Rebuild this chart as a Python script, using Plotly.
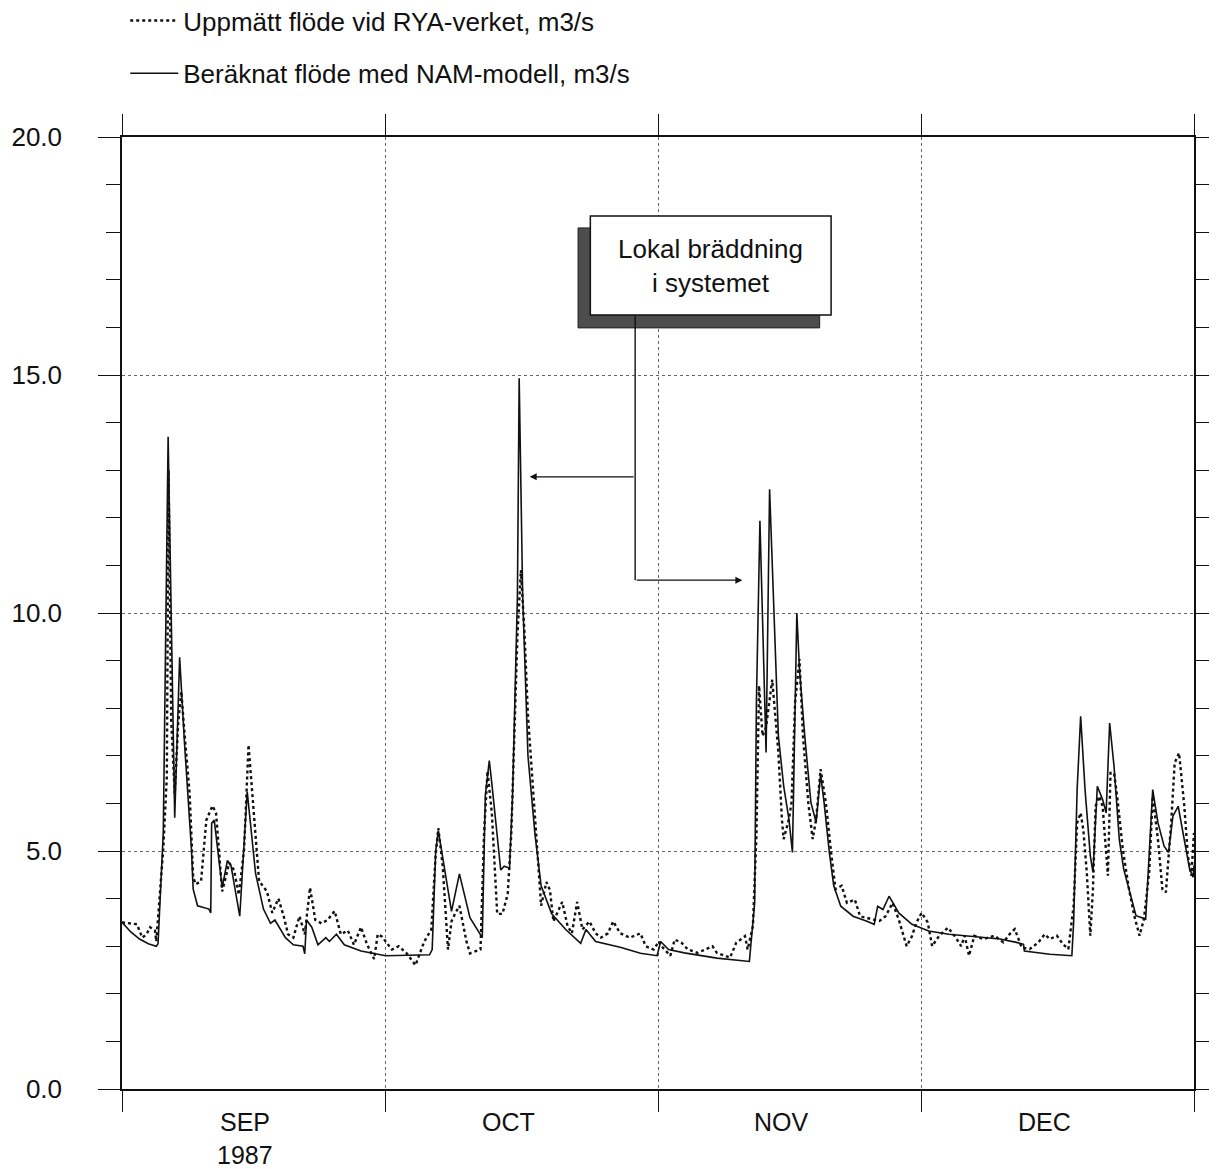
import pandas as pd
import plotly.graph_objects as go

# ---------------- data (days after 1 Sep 1987, flow in m3/s) ----------------
measured_day = [0.0, 1.7, 2.3, 2.8, 3.2, 3.75, 3.9, 4.3, 4.7, 5.1, 5.3, 5.6, 6.0, 6.4, 6.75, 7.1, 7.7, 8.1,
                8.4, 9.0, 9.6, 10.3, 10.7, 11.4, 12.2, 12.75, 13.3, 13.9, 14.4, 15.0, 15.6, 16.5, 17.1,
                17.8, 18.4, 18.9, 19.5, 20.2, 20.8, 21.4, 22.0, 22.7, 23.4, 24.2, 24.9, 25.7, 26.4, 27.2,
                27.9, 28.7, 29.1, 29.6, 30.7, 31.5, 32.4, 33.4, 34.4, 35.2, 35.7, 36.0, 36.5, 37.1, 37.5,
                37.9, 38.4, 39.2, 39.6, 40.8, 41.2, 41.6, 42.1, 42.7, 43.3, 43.9, 44.3, 44.65, 45.0, 45.4,
                45.8, 46.2, 46.8, 47.4, 47.7, 48.3, 48.7, 49.1, 50.1, 50.7, 51.2, 51.8, 52.4, 53.2, 53.9,
                54.5, 55.3, 55.9, 56.7, 57.8, 59.0, 59.6, 60.5, 61.1, 61.4, 62.4, 62.9, 63.7, 64.4, 65.5,
                67.2, 67.7, 69.2, 69.9, 70.9, 71.2, 71.8, 72.2, 72.5, 72.9, 73.3, 74.0, 74.7, 75.1, 75.3,
                75.9, 76.2, 76.6, 77.1, 77.5, 78.1, 78.6, 79.0, 79.5, 80.1, 80.7, 81.2, 81.9, 82.5, 83.4,
                84.0, 85.5, 86.2, 86.9, 87.7, 88.4, 89.3, 89.9, 90.4, 91.0, 91.7, 92.2, 93.0, 94.0, 94.9,
                95.5, 95.9, 96.4, 97.0, 98.0, 99.3, 100.3, 101.0, 101.6, 102.4, 103.3, 104.3, 105.0, 105.6,
                106.4, 107.1, 107.7, 108.3, 108.7, 109.1, 109.4, 109.8, 110.2, 110.5, 110.8, 111.2, 111.6,
                112.0, 112.2, 112.5, 112.9, 113.3, 113.9, 114.6, 115.2, 115.8, 116.3, 116.9, 117.3, 117.9,
                118.4, 118.8, 119.4, 119.8, 120.3, 120.9, 121.3, 121.7, 122.0]
measured_flow = [3.5, 3.46, 3.18, 3.25, 3.4, 3.33, 3.1, 4.08, 5.05, 6.55, 13.0, 7.75, 6.2, 7.7, 8.35, 7.5, 6.2, 4.45,
                 4.3, 4.37, 5.65, 5.95, 5.8, 4.15, 4.75, 4.6, 4.08, 5.05, 7.23, 5.8, 4.37, 4.15, 3.7,
                 4.0, 3.63, 3.25, 3.18, 3.63, 3.25, 4.23, 3.55, 3.48, 3.55, 3.74, 3.25, 3.33, 3.03, 3.4,
                 3.03, 2.73, 3.25, 3.2, 2.93, 3.0, 2.85, 2.6, 3.1, 3.35, 4.93, 5.48, 4.68, 2.93, 3.52,
                 3.68, 3.85, 3.1, 2.85, 2.93, 5.35, 6.68, 5.77, 3.68, 3.68, 4.1, 5.35, 7.43, 9.52, 10.9,
                 9.6, 7.85, 6.18, 4.68, 3.85, 4.35, 4.18, 3.52, 3.93, 3.43, 3.27, 3.93, 3.35, 3.52, 3.27,
                 3.18, 3.27, 3.52, 3.27, 3.18, 3.27, 3.0, 2.93, 3.1, 3.0, 2.8, 3.14, 3.07, 2.93, 2.86,
                 3.0, 2.86, 2.76, 3.07, 3.21, 2.93, 3.42, 5.32, 8.47, 7.42, 7.6, 8.6, 7.07, 5.67, 5.25,
                 5.67, 6.02, 8.12, 9.03, 7.42, 6.02, 5.25, 5.67, 6.72, 6.02, 4.97, 4.2, 4.27, 3.91, 3.98,
                 3.63, 3.56, 3.53, 3.63, 3.91, 3.56, 3.0, 3.21, 3.49, 3.7, 3.5, 3.0, 3.22, 3.39, 3.18,
                 3.0, 3.22, 2.8, 3.22, 3.15, 3.22, 3.08, 3.25, 3.36, 2.97, 2.94, 3.08, 3.25, 3.15,
                 3.22, 3.04, 2.94, 3.85, 5.59, 5.8, 5.45, 4.55, 3.22, 4.2, 5.94, 6.15, 5.94,
                 4.9, 4.48, 6.64, 6.64, 6.08, 5.03, 4.2, 3.64, 3.22, 3.57, 4.55, 6.15, 5.24,
                 4.2, 4.13, 5.59, 6.85, 7.06, 5.94, 4.9, 4.48, 5.38]

model_day = [0.0, 1.0, 2.0, 3.0, 3.9, 4.1, 4.7, 5.25, 6.0, 6.56, 7.1, 7.9, 8.1, 8.6, 9.9, 10.1, 10.2, 10.5,
             11.4, 12.0, 12.4, 13.4, 14.25, 15.2, 16.1, 16.9, 17.4, 18.6, 19.5, 20.6, 20.8, 21.0, 21.6,
             22.3, 23.2, 23.6, 24.4, 25.3, 27.2, 29.1, 30.0, 35.0, 35.3, 35.7, 36.0, 37.5, 38.4, 39.6,
             41.0, 41.35, 41.8, 42.1, 43.1, 43.5, 44.1, 44.45, 44.7, 45.0, 45.2, 45.6, 46.2, 47.0, 47.7,
             48.9, 50.5, 52.2, 52.8, 53.9, 56.7, 59.0, 60.9, 61.3, 62.2, 64.0, 67.7, 71.4, 72.0, 72.2,
             72.6, 73.1, 73.3, 73.7, 74.2, 74.7, 75.3, 75.9, 76.3, 76.8, 77.1, 77.7, 78.4, 79.0, 79.5,
             79.9, 80.5, 81.0, 81.8, 83.2, 84.7, 85.6, 86.0, 86.6, 87.3, 88.4, 89.9, 91.8, 94.1, 96.1,
             98.0, 99.9, 101.8, 102.6, 102.7, 105.6, 108.1, 108.3, 108.7, 109.1, 109.6, 110.2, 110.5,
             111.0, 111.6, 112.0, 112.4, 112.9, 113.5, 114.0, 114.8, 115.4, 116.5, 116.9, 117.3, 117.9,
             118.6, 119.1, 119.6, 120.2, 120.9, 121.5, 121.9, 122.0]
model_flow = [3.5, 3.3, 3.15, 3.05, 3.0, 3.05, 5.4, 13.7, 5.7, 9.07, 7.3, 5.05, 4.2, 3.85, 3.78, 3.7, 5.58, 5.65,
              4.23, 4.8, 4.7, 3.63, 6.25, 4.53, 3.78, 3.48, 3.55, 3.18, 3.03, 3.0, 2.84, 3.55, 3.4,
              3.03, 3.18, 3.1, 3.25, 3.03, 2.9, 2.84, 2.8, 2.82, 2.93, 5.0, 5.43, 3.73, 4.52, 3.6,
              3.18, 6.18, 6.9, 6.4, 4.6, 4.68, 4.64, 6.18, 7.85, 10.35, 14.93, 10.35, 7.0, 5.35, 4.27,
              3.68, 3.35, 3.06, 3.35, 3.1, 2.98, 2.85, 2.8, 3.1, 2.93, 2.86, 2.75, 2.68, 3.91, 8.12,
              11.94, 8.82, 7.07, 12.6, 9.87, 7.42, 6.37, 5.67, 4.97, 10.0, 8.82, 7.42, 6.02, 5.6, 6.61,
              6.02, 4.97, 4.27, 3.84, 3.63, 3.53, 3.46, 3.84, 3.77, 4.05, 3.7, 3.46, 3.32, 3.25, 3.22,
              3.18, 3.15, 3.08, 3.04, 2.9, 2.83, 2.8, 3.5, 6.29, 7.83, 6.29, 4.9, 4.55,
              6.36, 6.08, 5.8, 7.69, 6.78, 5.24, 4.62, 4.06, 3.64, 3.57, 4.9, 6.29, 5.59,
              5.1, 4.97, 5.73, 5.94, 5.24, 4.62, 4.45, 4.7]

month_starts = ["1987-09-01", "1987-10-01", "1987-11-01", "1987-12-01", "1988-01-01"]
month_label_dates = ["1987-09-15", "1987-10-15", "1987-11-15", "1987-12-15"]
month_labels = ["SEP", "OCT", "NOV", "DEC"]
y_tick_vals = [0, 5, 10, 15, 20]
y_tick_text = ["0.0", "5.0", "10.0", "15.0", "20.0"]
name_measured = "Uppmätt flöde vid RYA-verket, m3/s"
name_model = "Beräknat flöde med NAM-modell, m3/s"
callout_text = "Lokal bräddning<br>i systemet"

BASE = pd.Timestamp("1987-09-01")


def d(days):
    return (BASE + pd.Timedelta(days=float(days))).strftime("%Y-%m-%d %H:%M:%S")


FONT = "Liberation Sans, Arial, Helvetica, sans-serif"
INK = "#111111"

fig = go.Figure()
fig.add_trace(go.Scatter(
    x=[d(v) for v in measured_day], y=measured_flow, mode="lines", name=name_measured,
    line=dict(color=INK, width=2.4, dash="dot"), legendgroup="a"))
fig.add_trace(go.Scatter(
    x=[d(v) for v in model_day], y=model_flow, mode="lines", name=name_model,
    line=dict(color=INK, width=1.6), legendgroup="b"))

# callout box with shadow
fig.add_shape(type="rect", xref="x", yref="y", x0=d(51.9), x1=d(79.4), y0=15.99, y1=18.09,
              fillcolor="#4d4d4d", line=dict(color="#222222", width=1), layer="above")
fig.add_shape(type="rect", xref="x", yref="y", x0=d(53.3), x1=d(80.7), y0=16.26, y1=18.34,
              fillcolor="white", line=dict(color=INK, width=1.5), layer="above")
fig.add_shape(type="line", xref="x", yref="y", x0=d(58.4), x1=d(58.4), y0=16.26, y1=10.69,
              line=dict(color=INK, width=1.4), layer="above")

annotations = [
    dict(x=d(67.0), y=17.3, xref="x", yref="y", text=callout_text, showarrow=False,
         font=dict(family=FONT, size=26, color=INK), align="center"),
    dict(x=d(46.4), y=12.86, ax=d(58.4), ay=12.86, xref="x", yref="y", axref="x", ayref="y",
         text="", showarrow=True, arrowhead=2, arrowsize=1, arrowwidth=1.4, arrowcolor=INK),
    dict(x=d(70.6), y=10.69, ax=d(58.4), ay=10.69, xref="x", yref="y", axref="x", ayref="y",
         text="", showarrow=True, arrowhead=2, arrowsize=1, arrowwidth=1.4, arrowcolor=INK),
]
for md, ml in zip(month_label_dates, month_labels):
    annotations.append(dict(x=md, y=-0.035, xref="x", yref="paper", text=ml, showarrow=False,
                            font=dict(family=FONT, size=25, color=INK), yanchor="middle"))
annotations.append(dict(x=month_label_dates[0], y=-0.069, xref="x", yref="paper", text="1987",
                        showarrow=False, font=dict(family=FONT, size=25, color=INK), yanchor="middle"))

# the page body adds an 8px margin, so the figure is 8px smaller than the window
fig.update_layout(
    width=1209, height=1161,
    margin=dict(l=114, r=23, t=129, b=80, autoexpand=False),
    paper_bgcolor="white", plot_bgcolor="white",
    font=dict(family=FONT, size=24, color=INK),
    annotations=annotations,
    showlegend=True,
    legend=dict(x=0.003, xanchor="left", y=1.147, yanchor="top", traceorder="grouped",
                tracegroupgap=16, font=dict(family=FONT, size=26, color=INK),
                bgcolor="rgba(0,0,0,0)", itemwidth=48),
    xaxis=dict(type="date", range=[month_starts[0], month_starts[-1]],
               tickmode="array", tickvals=month_starts, ticktext=["", "", "", "", ""],
               ticks="outside", ticklen=21, tickwidth=1.3, tickcolor=INK,
               showline=True, linecolor=INK, linewidth=1.5, mirror="ticks",
               showgrid=True, gridcolor="#666666", griddash="dot", gridwidth=1,
               zeroline=False),
    yaxis=dict(range=[0, 20], tickmode="array", tickvals=y_tick_vals, ticktext=y_tick_text,
               ticks="outside", ticklen=22, tickwidth=1.3, tickcolor=INK,
               ticklabelstandoff=31,
               showline=True, linecolor=INK, linewidth=1.5, mirror="ticks",
               showgrid=True, gridcolor="#666666", griddash="dot", gridwidth=1,
               zeroline=False, tickfont=dict(family=FONT, size=26, color=INK),
               minor=dict(tickmode="array", tickvals=list(range(0, 21)), ticks="outside",
                          ticklen=14, tickwidth=1.1, tickcolor=INK, showgrid=False)),
)

fig.write_html("out.html")
